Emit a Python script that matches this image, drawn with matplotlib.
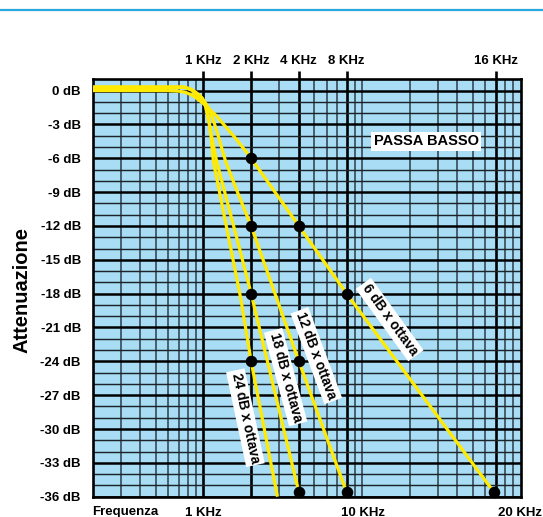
"""
plot.py — filtro passa basso : pendenze 6 / 12 / 18 / 24 dB x ottava
Uscita : out.png (543 x 517 px)
"""

import matplotlib
matplotlib.use("Agg")
import matplotlib.pyplot as plt
import matplotlib.transforms as mtransforms
from matplotlib import font_manager
from matplotlib.lines import Line2D

# carattere stretto se disponibile, altrimenti Liberation Sans (metrica Arial)
installati = {f.name for f in font_manager.fontManager.ttflist}
FONT = "Liberation Sans Narrow" if "Liberation Sans Narrow" in installati else "Liberation Sans"
plt.rcParams["font.family"] = [FONT, "DejaVu Sans"]
plt.rcParams["font.weight"] = "bold"

# ---- dati (frequenza in Hz, attenuazione in dB) ----
f_6 = [200, 580, 700, 770, 830, 890, 960, 1030, 1110, 1200, 1380, 1600, 1890, 2000, 4000, 8000, 68000]
db_6 = [0, 0, -0.05, -0.15, -0.35, -0.6, -0.95, -1.3, -1.75, -2.2, -3.2, -4.25, -5.55, -6, -12, -18, -35.6]

f_12 = [200, 760, 840, 894, 950, 1009, 1085, 1166, 1254, 1382, 1650, 2000, 4000, 8000]
db_12 = [0.3, 0.3, 0.05, -0.3, -0.6, -0.9, -1.6, -2.8, -4.25, -6.3, -9.1, -12, -24, -35.6]

f_18 = [200, 760, 840, 894, 940, 986, 1034, 1085, 1139, 1213, 1640, 2000, 4000]
db_18 = [0.3, 0.3, 0.1, -0.18, -0.45, -0.74, -1.46, -2.78, -4.39, -6.3, -13.3, -18, -35.6]

f_24 = [200, 760, 840, 894, 940, 986, 1034, 1080, 1120, 1156, 1455, 1718, 2000, 2930]
db_24 = [0.3, 0.3, 0.1, -0.15, -0.4, -0.68, -1.38, -2.6, -4.2, -6.3, -13.3, -18.4, -24, -36]

punti_f = [2000, 4000, 8000, 68000, 2000, 4000, 8000, 2000, 4000, 2000]
punti_db = [-6, -12, -18, -35.6, -12, -24, -35.6, -18, -35.6, -24]

tacche_sopra = [1000, 2000, 4000, 8000, 70000]
etichette_sopra = ["1 KHz", "2 KHz", "4 KHz", "8 KHz", "16 KHz"]

livelli_db = list(range(0, -37, -3))
etichette_db = [f"{v} dB" for v in livelli_db]

etichette_sotto = ["1 KHz", "10 KHz", "20 KHz"]
pos_sotto = [1000, 10200, 100000]

# etichette delle pendenze : testo, frequenza, dB, rotazione
pendenze = [("6 dB x ottava", 14950, -20.3, -54),
            ("12 dB x ottava", 5150, -23.5, -69.5),
            ("18 dB x ottava", 3300, -25.4, -75),
            ("24 dB x ottava", 1840, -29.0, -78)]

GIALLO = "#FFEA00"
AZZURRO = "#A9DDF6"

fig = plt.figure(figsize=(5.43, 5.17), dpi=100)
ax = fig.add_axes([92.6 / 543, 20.3 / 517, 427.9 / 543, 417.4 / 517])
ax.set_facecolor(AZZURRO)
ax.set_xscale("log")
ax.set_xlim(200, 100000)
ax.set_ylim(-36, 1)

# ---- griglia ----
minori_x = [k * d for d in (100, 1000, 10000) for k in range(1, 10)
            if 200 <= k * d <= 100000 and k * d not in tacche_sopra]
ax.set_xticks(tacche_sopra, etichette_sopra)
ax.set_xticks(minori_x, minor=True)
ax.xaxis.set_minor_formatter(plt.NullFormatter())
ax.set_yticks(livelli_db, etichette_db)
ax.set_yticks(range(0, -37, -1), minor=True)
ax.set_axisbelow(True)
ax.grid(which="major", axis="x", color="black", lw=1.9)
ax.grid(which="minor", axis="x", color="#33444f", lw=1.15)
ax.grid(which="major", axis="y", color="black", lw=1.8)
ax.grid(which="minor", axis="y", color="#1c2329", lw=1.05)

ax.xaxis.tick_top()
ax.tick_params(axis="x", which="major", length=6, width=1.9, pad=3,
               labelsize=9.5, color="black")
ax.tick_params(axis="x", which="minor", length=0)
ax.tick_params(axis="y", which="both", length=0, pad=8.5, labelsize=9.5)
for s in ax.spines.values():
    s.set_linewidth(1.9)

# ---- curve ----
for f, db in [(f_6, db_6), (f_12, db_12), (f_18, db_18), (f_24, db_24)]:
    ax.plot(f, db, color=GIALLO, lw=2.3, solid_capstyle="butt",
            solid_joinstyle="round", zorder=3)
ax.plot(punti_f, punti_db, "o", color="black", ms=7.3, zorder=6, clip_on=False)

# ---- testi ----
for testo, f, db, rot in pendenze:
    ax.text(f, db, testo, rotation=rot, rotation_mode="anchor", ha="center",
            va="center", fontsize=9.8, zorder=5,
            bbox=dict(facecolor="white", edgecolor="none", pad=1.8))

ax.text(25400, -4.5, "PASSA BASSO", ha="center", va="center", fontsize=10.5,
        zorder=5, bbox=dict(facecolor="white", edgecolor="none", pad=1.8))

basso = mtransforms.blended_transform_factory(ax.transData, fig.transFigure)
ax.text(200, 1 - 515.5 / 517, "Frequenza", transform=basso, ha="left",
        va="baseline", fontsize=9.5, clip_on=False)
for testo, f in zip(etichette_sotto, pos_sotto):
    ax.text(f, 1 - 515.5 / 517, testo, transform=basso, ha="center",
            va="baseline", fontsize=9.5, clip_on=False)

fig.text(22 / 543, 1 - 290 / 517, "Attenuazione", rotation=90, ha="center",
         va="center", fontsize=14.5)

# linea azzurra in alto
fig.add_artist(Line2D([0, 1], [1 - 9.5 / 517] * 2, transform=fig.transFigure,
                      color="#29A8E0", lw=1.6))

fig.savefig("out.png", dpi=100)
